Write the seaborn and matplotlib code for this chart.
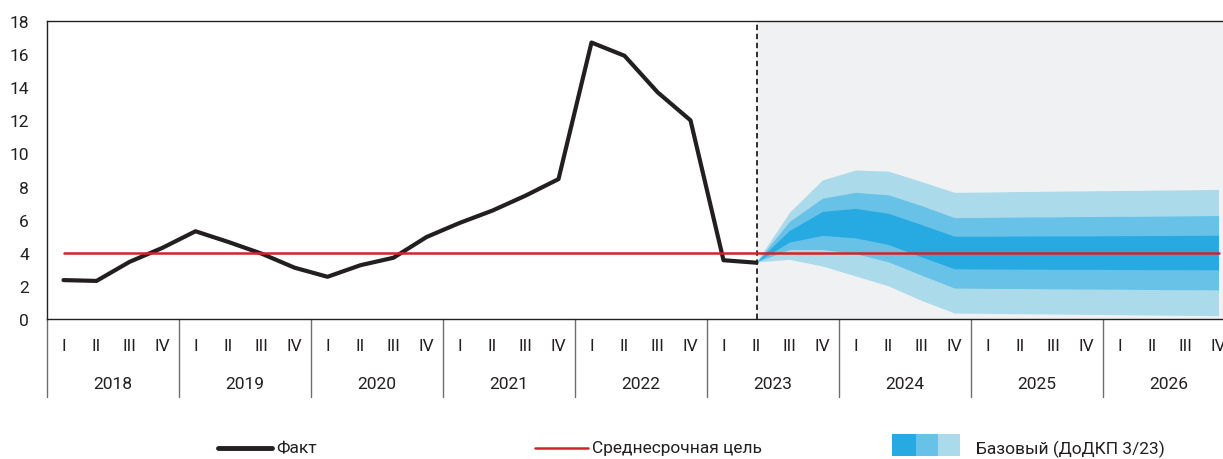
import numpy as np
import pandas as pd
import seaborn as sns
from matplotlib import pyplot as plt
from matplotlib.lines import Line2D
from matplotlib.patches import Rectangle

# quarters 2018 Q1 .. 2026 Q4
years = [2018, 2019, 2020, 2021, 2022, 2023, 2024, 2025, 2026]
quarter_names = ['I', 'II', 'III', 'IV']

# inflation, fact (2018 Q1 .. 2023 Q2)
fact = [2.35, 2.3, 3.45, 4.3, 5.3, 4.65, 3.95, 3.1, 2.55, 3.25, 3.7, 4.95,
        5.8, 6.55, 7.45, 8.45, 16.7, 15.9, 13.7, 12.0, 3.55, 3.4]
target = 4.0

# forecast fan (2023 Q2 .. 2026 Q4)
light_hi = [3.45, 6.45, 8.4, 9.0, 8.93, 8.3, 7.65, 7.67, 7.7, 7.72, 7.74, 7.76, 7.78, 7.8, 7.83]
mid_hi = [3.45, 5.9, 7.3, 7.65, 7.5, 6.85, 6.12, 6.14, 6.16, 6.17, 6.19, 6.2, 6.21, 6.23, 6.25]
dark_hi = [3.45, 5.35, 6.5, 6.68, 6.38, 5.7, 5.0, 5.0, 5.01, 5.02, 5.02, 5.03, 5.04, 5.05, 5.06]
dark_lo = [3.45, 4.65, 5.05, 4.9, 4.5, 3.75, 3.03, 3.02, 3.01, 3.0, 3.0, 2.99, 2.98, 2.98, 2.97]
mid_lo = [3.45, 4.2, 4.2, 3.95, 3.45, 2.65, 1.87, 1.85, 1.84, 1.82, 1.81, 1.8, 1.78, 1.77, 1.76]
light_lo = [3.45, 3.6, 3.2, 2.6, 2.0, 1.12, 0.36, 0.34, 0.32, 0.3, 0.28, 0.26, 0.24, 0.22, 0.2]

fact_label = 'Факт'
target_label = 'Среднесрочная цель'
fan_label = 'Базовый (ДоДКП 3/23)'

black = '#231F20'
red = '#D2232A'
dark = '#27AAE1'
mid = '#68C2E7'
light = '#ABDAEB'

sns.set_theme(style='white')
plt.rcParams['font.family'] = ['Roboto', 'DejaVu Sans']
fs = 12.5

W, H = 1223, 460
fig = plt.figure(figsize=(W / 100, H / 100), dpi=100)
ax = fig.add_axes([47 / W, 1 - 320 / H, 1188 / W, 298 / H])

n = len(years) * 4
idx = np.arange(n)
fan_start = len(fact) - 1
fan_x = idx[fan_start:fan_start + len(light_hi)]

ax.axvspan(fan_start, n - 0.5, color='#F0F1F3', lw=0, zorder=0)
ax.fill_between(fan_x, light_lo, light_hi, color=light, lw=0, zorder=1)
ax.fill_between(fan_x, mid_lo, mid_hi, color=mid, lw=0, zorder=2)
ax.fill_between(fan_x, dark_lo, dark_hi, color=dark, lw=0, zorder=3)
ax.axvline(fan_start, color=black, ls=(0, (3, 2)), lw=1.3, zorder=4)

fact_df = pd.DataFrame({'q': idx[:len(fact)], 'v': fact})
sns.lineplot(data=fact_df, x='q', y='v', color=black, lw=3, ax=ax, zorder=6)
target_df = pd.DataFrame({'q': idx, 'v': [target] * n})
sns.lineplot(data=target_df, x='q', y='v', color=red, lw=1.8, ax=ax, zorder=7)

ax.set_xlim(-0.5, n - 0.5)
ax.set_ylim(0, 18)
ax.set_yticks(range(0, 19, 2))
ax.set_xticks([])
ax.set_xlabel('')
ax.set_ylabel('')
ax.tick_params(axis='y', length=0, pad=13, labelsize=fs, labelcolor=black)
for side in ['top', 'left', 'bottom']:
    ax.spines[side].set_color(black)
    ax.spines[side].set_linewidth(1)
ax.spines['right'].set_visible(False)

# two-level category axis
trans = ax.get_xaxis_transform()
for i in idx:
    ax.text(i, -0.09, quarter_names[i % 4], transform=trans, ha='center',
            va='center', fontsize=fs, color=black)
for k, yr in enumerate(years):
    ax.text(4 * k + 1.5, -0.215, str(yr), transform=trans, ha='center',
            va='center', fontsize=fs, color=black)
for k in range(len(years) + 1):
    ax.plot([4 * k - 0.5] * 2, [0, -0.262], transform=trans, color='#6D6E71',
            lw=1, clip_on=False)

# legend
ly = 1 - 449 / H
fig.add_artist(Line2D([218 / W, 272 / W], [ly, ly], color=black, lw=3.5))
fig.text(276 / W, ly, fact_label, va='center', fontsize=fs, color=black)
fig.add_artist(Line2D([535 / W, 588 / W], [ly, ly], color=red, lw=1.8))
fig.text(592 / W, ly, target_label, va='center', fontsize=fs, color=black)
for x0, x1, c in [(892, 916, dark), (916, 938, mid), (938, 960, light)]:
    fig.add_artist(Rectangle((x0 / W, 1 - 457 / H), (x1 - x0) / W, 22 / H,
                             color=c, lw=0))
fig.text(976 / W, ly, fan_label, va='center', fontsize=fs, color=black)

fig.savefig('out.png', dpi=100)
